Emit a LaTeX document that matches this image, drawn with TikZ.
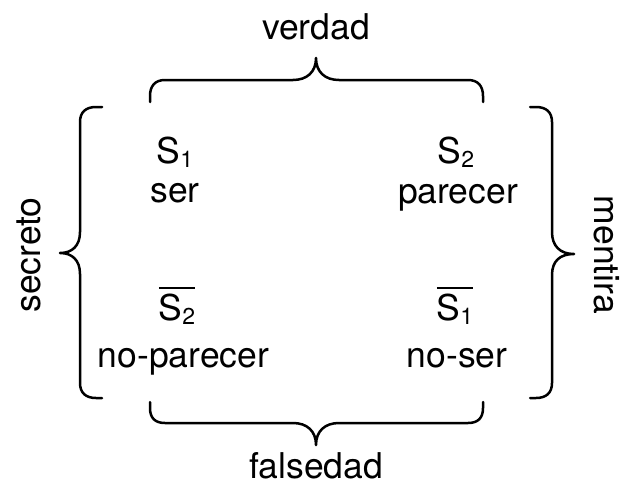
\documentclass[tikz,border=0pt]{standalone}
\usepackage{fontspec}
\setmainfont{TeX Gyre Heros}
\newcommand\subdig[1]{\raisebox{-0.12em}{\fontsize{23}{23}\selectfont #1}}
\newcommand\ovlS[1]{\vbox{\hrule height 2.3pt\kern 4.5pt\hbox{#1}}}
\begin{document}
\begin{tikzpicture}[x=1pt,y=-1pt,
  lbl/.style={anchor=base,inner sep=0pt,font=\fontsize{35.5}{40}\selectfont},
  brace/.style={line width=2.5pt,line cap=round,line join=round}]
\useasboundingbox (0,0) rectangle (623,487);
% texts
\node[lbl] (verdad) at (316,40) {verdad};
\node[lbl] (falsedad) at (316,478) {falsedad};
\node[lbl,rotate=90,anchor=base] (secreto) at (40,255) {secreto};
\node[lbl,rotate=-90,anchor=base] (mentira) at (594,255) {mentira};
\node[lbl] (s1) at (175,163) {S\subdig{1}};
\node[lbl] (ser) at (175,202) {ser};
\node[lbl] (s2) at (456,163) {S\subdig{2}};
\node[lbl] (parecer) at (458,203) {parecer};
\node[lbl] (ns2) at (177,320) {\ovlS{S\subdig{2}}};
\node[lbl] (noparecer) at (183.5,367) {no-parecer};
\node[lbl] (ns1) at (455,320) {\ovlS{S\subdig{1}}};
\node[lbl] (noser) at (457,367) {no-ser};
% top brace
\draw[brace] (150,102) -- (150,96) .. controls (150,86) and (155,80) .. (165,80)
  -- (293,80) .. controls (307,80) and (316,72) .. (316,58)
  .. controls (316,72) and (325,80) .. (339,80) -- (468,80)
  .. controls (478,80) and (483,86) .. (483,96) -- (483,102);
% bottom brace
\draw[brace] (150,402) -- (150,408) .. controls (150,418) and (155,423) .. (165,423)
  -- (293,423) .. controls (307,423) and (316,431) .. (316,445)
  .. controls (316,431) and (325,423) .. (339,423) -- (468,423)
  .. controls (478,423) and (483,418) .. (483,408) -- (483,402);
% left brace
\draw[brace] (102,107) -- (96,107) .. controls (86,107) and (80,112) .. (80,122)
  -- (80,232) .. controls (80,246) and (72,253) .. (60,253)
  .. controls (72,253) and (80,260) .. (80,274) -- (80,383)
  .. controls (80,393) and (86,398) .. (96,398) -- (102,398);
% right brace
\draw[brace] (530,107) -- (536,107) .. controls (546,107) and (552,112) .. (552,122)
  -- (552,232) .. controls (552,246) and (560,254) .. (574,254)
  .. controls (560,254) and (552,261) .. (552,275) -- (552,383)
  .. controls (552,393) and (546,398) .. (536,398) -- (530,398);
\end{tikzpicture}
\end{document}
